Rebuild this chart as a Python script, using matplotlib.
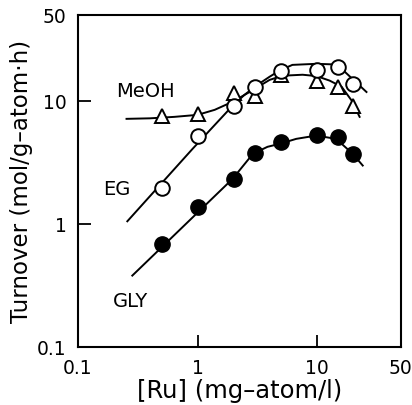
import matplotlib
matplotlib.use("Agg")
import matplotlib.pyplot as plt

plt.rcParams["font.family"] = ["DejaVu Sans"]

# ---------- data ----------
ru = [0.5, 1, 2, 3, 5, 10, 15, 20]          # [Ru] (mg-atom/l)
meoh = [7.6, 7.8, 11.6, 11.0, 16.1, 14.4, 12.9, 9.1]
eg = [1.95, 5.2, 9.1, 12.9, 17.6, 17.9, 19.0, 13.7]
gly = [0.69, 1.37, 2.32, 3.78, 4.62, 5.3, 5.07, 3.71]

# fitted curves
meoh_fit_x = [0.255, 0.40, 0.64, 1.0, 1.39, 1.96, 2.72, 4.0, 5.13, 7.54, 9.86, 12.7, 16.0, 19.4, 22.6]
meoh_fit_y = [7.14, 7.21, 7.41, 7.69, 8.45, 9.82, 11.8, 14.8, 16.0, 16.3, 15.9, 14.6, 13.0, 10.05, 7.41]
eg_fit_x = [0.259, 0.908, 1.96, 2.47, 3.17, 4.0, 4.84, 6.2, 9.86, 13.2, 16.6, 19.8, 25.8]
eg_fit_y = [1.05, 4.07, 9.11, 11.2, 13.5, 15.7, 17.6, 19.6, 20.0, 19.8, 17.6, 15.0, 11.8]
gly_fit_x = [0.285, 1.96, 2.90, 3.84, 4.84, 6.68, 9.8, 14.4, 19.8, 24.0]
gly_fit_y = [0.38, 2.32, 3.71, 4.23, 4.47, 4.91, 5.22, 4.91, 3.71, 2.98]

xticks = [0.1, 1, 10, 50]
xticklabels = ["0.1", "1", "10", "50"]
yticks = [0.1, 1, 10, 50]
yticklabels = ["0.1", "1", "10", "50"]

fig = plt.figure(figsize=(4.12, 4.06), dpi=100)
ax = fig.add_axes([0.189, 0.143, 0.784, 0.818])

lk = dict(color="black", lw=1.4, zorder=2)
ax.plot(meoh_fit_x, meoh_fit_y, **lk)
ax.plot(eg_fit_x, eg_fit_y, **lk)
ax.plot(gly_fit_x, gly_fit_y, **lk)

ax.plot(ru, meoh, ls="none", marker="^", ms=9.5, mfc="white", mec="black", mew=1.4, zorder=3)
ax.plot(ru, eg, ls="none", marker="o", ms=10.5, mfc="white", mec="black", mew=1.4, zorder=4)
ax.plot(ru, gly, ls="none", marker="o", ms=11, mfc="black", mec="black", zorder=4)

ax.set_xscale("log"); ax.set_yscale("log")
ax.set_xlim(0.1, 50); ax.set_ylim(0.1, 50)
ax.minorticks_off()
ax.set_xticks(xticks, xticklabels, fontsize=13.5)
ax.set_yticks(yticks, yticklabels, fontsize=13.5)
ax.tick_params(direction="in", length=9, width=1.3, pad=8)
for s in ax.spines.values():
    s.set_linewidth(1.5)

ax.text(0.368, 12.1, "MeOH", fontsize=14, ha="center", va="center")
ax.text(0.21, 1.93, "EG", fontsize=14, ha="center", va="center")
ax.text(0.275, 0.237, "GLY", fontsize=14, ha="center", va="center")

ax.set_xlabel("[Ru] (mg\u2013atom/l)", fontsize=17.5, labelpad=1)
ax.set_ylabel("Turnover (mol/g\u2013atom\u00b7h)", fontsize=16.5, labelpad=3)

fig.savefig("out.png", dpi=100)
